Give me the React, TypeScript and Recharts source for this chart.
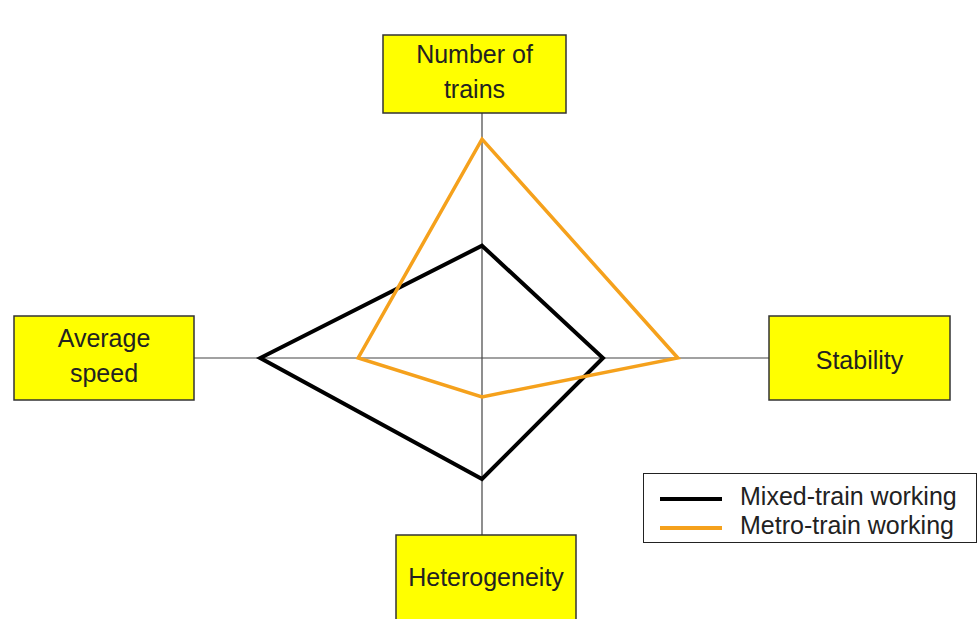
import React from 'react';
import {
  RadarChart,
  Radar,
  PolarGrid,
  PolarAngleAxis,
  PolarRadiusAxis,
  Legend,
} from 'recharts';

// axes, clockwise from the top
const categories = ['Number of trains', 'Stability', 'Heterogeneity', 'Average speed'];
const mixedValues = [3.9, 4.2, 4.2, 7.7];
const metroValues = [7.6, 6.8, 1.35, 4.3];
const seriesNames = ['Mixed-train working', 'Metro-train working'];

const data = categories.map((name, i) => ({
  name,
  mixed: mixedValues[i],
  metro: metroValues[i],
}));

const FONT = '"Liberation Sans", Arial, sans-serif';
const ORANGE = '#F5A11C';

// label boxes (x, y, w, h) and text lines
const labelBoxes: Record<string, { x: number; y: number; w: number; h: number; lines: string[]; ty: number[] }> = {
  'Number of trains': { x: 383, y: 35, w: 183, h: 78, lines: ['Number of', 'trains'], ty: [54, 89] },
  Stability: { x: 769, y: 316, w: 181, h: 84, lines: ['Stability'], ty: [360] },
  Heterogeneity: { x: 396, y: 535, w: 180, h: 90, lines: ['Heterogeneity'], ty: [577] },
  'Average speed': { x: 14, y: 316, w: 180, h: 84, lines: ['Average', 'speed'], ty: [338, 373] },
};

const BoxTick = (props: any) => {
  const box = labelBoxes[props.payload?.value];
  if (!box) return null;
  const cx = box.x + box.w / 2;
  return (
    <g>
      <rect x={box.x} y={box.y} width={box.w} height={box.h} fill="#FFFF00" stroke="#333" strokeWidth={1.5} />
      {box.lines.map((line, i) => (
        <text
          key={line}
          x={cx}
          y={box.ty[i]}
          textAnchor="middle"
          dominantBaseline="central"
          fontFamily={FONT}
          fontSize={25}
          fill="#222"
        >
          {line}
        </text>
      ))}
    </g>
  );
};

const LegendBox = () => (
  <div
    style={{
      width: 334,
      height: 70,
      border: '1.5px solid #222',
      background: '#fff',
      boxSizing: 'border-box',
      fontFamily: FONT,
      fontSize: 25,
      color: '#222',
      paddingTop: 10,
    }}
  >
    {seriesNames.map((name, i) => (
      <div key={name} style={{ display: 'flex', alignItems: 'center', height: 29 }}>
        <div
          style={{
            marginLeft: 16,
            width: 62,
            height: 4,
            background: i === 0 ? '#000' : ORANGE,
            marginRight: 18,
          }}
        />
        <span style={{ marginTop: -5 }}>{name}</span>
      </div>
    ))}
  </div>
);

export default function App() {
  return (
    <div style={{ position: 'fixed', left: 0, top: 0, width: 978, height: 619, background: '#fff' }}>
      <RadarChart
        width={978}
        height={619}
        data={data}
        cx={482}
        cy={358}
        outerRadius={288}
        margin={{ top: 0, right: 0, bottom: 0, left: 0 }}
      >
        <PolarGrid polarRadius={[]} stroke="#444" strokeWidth={1.2} />
        <PolarRadiusAxis domain={[0, 10]} tick={false} axisLine={false} tickCount={2} />
        <Radar
          name={seriesNames[0]}
          dataKey="mixed"
          stroke="#000"
          strokeWidth={4}
          fill="none"
          fillOpacity={0}
          dot={false}
          isAnimationActive={false}
        />
        <Radar
          name={seriesNames[1]}
          dataKey="metro"
          stroke={ORANGE}
          strokeWidth={3.5}
          fill="none"
          fillOpacity={0}
          dot={false}
          isAnimationActive={false}
        />
        <PolarAngleAxis dataKey="name" tick={<BoxTick />} axisLine={false} tickLine={false} />
        <Legend
          layout="vertical"
          align="right"
          verticalAlign="middle"
          content={<LegendBox />}
          wrapperStyle={{ left: 643, top: 473, right: 'auto', bottom: 'auto', width: 334 }}
        />
      </RadarChart>
    </div>
  );
}
